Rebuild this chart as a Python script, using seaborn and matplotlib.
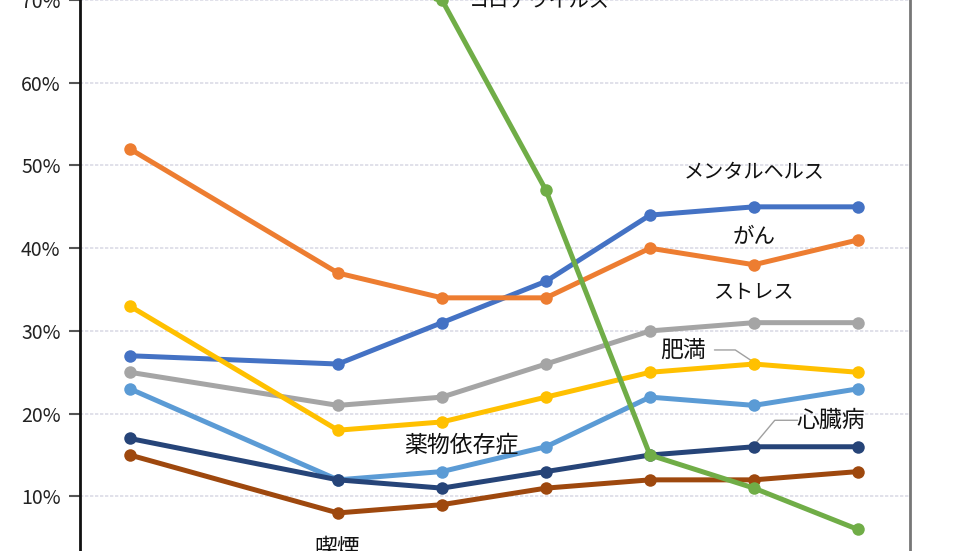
import matplotlib
matplotlib.use("Agg")
import matplotlib.pyplot as plt
import seaborn as sns
import numpy as np
import pandas as pd

# x位置（2つ目のカテゴリが欠けている）
x_pos = [0, 2, 3, 4, 5, 6, 7]

mental = [27, 26, 31, 36, 44, 45, 45]
cancer = [52, 37, 34, 34, 40, 38, 41]
stress = [25, 21, 22, 26, 30, 31, 31]
obesity = [33, 18, 19, 22, 25, 26, 25]
drug = [23, 12, 13, 16, 22, 21, 23]
heart = [17, 12, 11, 13, 15, 16, 16]
smoking = [15, 8, 9, 11, 12, 12, 13]
corona = [np.nan, 72, 70, 47, 15, 11, 6]

series_names = ["メンタルヘルス", "がん", "ストレス", "肥満", "薬物依存症", "心臓病", "喫煙", "コロナウイルス"]
series_values = [mental, cancer, stress, obesity, drug, heart, smoking, corona]
colors = ["#4472C4", "#ED7D31", "#A5A5A5", "#FFC000", "#5B9BD5", "#264478", "#9E480E", "#70AD47"]

y_ticks = [10, 20, 30, 40, 50, 60, 70]

rows = []
for name, vals in zip(series_names, series_values):
    for x, v in zip(x_pos, vals):
        rows.append({"x": x, "value": v, "series": name})
df = pd.DataFrame(rows)

sns.set_theme(style="white")
plt.rcParams["font.family"] = ["Noto Sans CJK JP", "DejaVu Sans"]

fig = plt.figure(figsize=(9.8, 5.51), dpi=100)
ax = fig.add_axes([80 / 980, 0, 830 / 980, 1])

# グリッド線
for t in y_ticks:
    ax.axhline(t, color="#DCDCE6", lw=1.2, ls=(0, (2, 1)), zorder=0)

palette = dict(zip(series_names, colors))
sns.lineplot(data=df, x="x", y="value", hue="series", palette=palette,
             marker="o", markersize=9, markeredgewidth=0, linewidth=3.6,
             legend=False, ax=ax, sort=True)

ax.set_xlim(-0.48, 7.5)
ax.set_ylim(3.4, 70)
ax.set_yticks(y_ticks)
ax.set_yticklabels([f"{t}%" for t in y_ticks], fontsize=14, color="#222222")
ax.set_xticks([])
ax.set_xlabel("")
ax.set_ylabel("")
ax.tick_params(axis="y", which="major", direction="out", length=8, width=1.5,
               color="#555555", pad=6, left=True)

for side in ["top", "bottom"]:
    ax.spines[side].set_visible(False)
ax.spines["left"].set_color("#111111")
ax.spines["left"].set_linewidth(2)
ax.spines["right"].set_color("#777777")
ax.spines["right"].set_linewidth(2)

# 系列ラベル
lab = dict(color="#111111", clip_on=False, ha="center", va="center")
ax.text(3.94, 69.8, "コロナウイルス", fontsize=14.5, **lab)
ax.text(6.0, 49.2, "メンタルヘルス", fontsize=14.5, **lab)
ax.text(6.0, 41.4, "がん", fontsize=15.5, **lab)
ax.text(6.0, 34.6, "ストレス", fontsize=14.5, **lab)
ax.text(5.32, 27.7, "肥満", fontsize=16.5, **lab)
ax.text(6.74, 19.2, "心臓病", fontsize=16.5, **lab)
ax.text(3.19, 16.2, "薬物依存症", fontsize=16.5, **lab)
ax.text(1.99, 3.7, "喫煙", fontsize=16.5, **lab)

# 引き出し線
ax.plot([5.62, 5.82, 6.0], [27.7, 27.7, 26.2], color="#A0A0A0", lw=1, zorder=1)
ax.plot([6.42, 6.2, 6.0], [19.2, 19.2, 16.2], color="#A0A0A0", lw=1, zorder=1)

fig.savefig("out.png", dpi=100)
